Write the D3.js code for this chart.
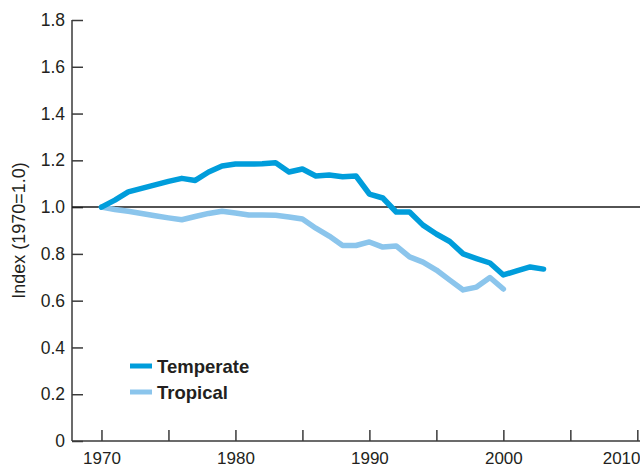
<!DOCTYPE html>
<html>
<head>
<meta charset="utf-8">
<script src="https://cdn.jsdelivr.net/npm/d3@7"></script>
<style>
  body { margin: 0; background: #fff; }
  svg { display: block; font-family: "Liberation Sans", Arial, sans-serif; }
</style>
</head>
<body>
<svg id="chart"></svg>
<script>
const years = d3.range(1970, 2004)

const temperate = [
  1.0, 1.03, 1.065, 1.08, 1.095, 1.11, 1.123, 1.114, 1.15, 1.176,
  1.184, 1.184, 1.185, 1.19, 1.15, 1.163, 1.133, 1.137, 1.13, 1.133,
  1.056, 1.039, 0.979, 0.979, 0.923, 0.885, 0.853, 0.8, 0.78, 0.761,
  0.71, 0.727, 0.744, 0.735,
]

const tropical = [
  1.0, 0.99, 0.982, 0.973, 0.963, 0.954, 0.946, 0.96, 0.973, 0.982,
  0.975, 0.966, 0.966, 0.965, 0.958, 0.949, 0.91, 0.876, 0.836, 0.836,
  0.851, 0.829, 0.834, 0.787, 0.765, 0.731, 0.688, 0.646, 0.658, 0.699,
  0.65,
]

const xTicks = [1970, 1975, 1980, 1985, 1990, 1995, 2000, 2005, 2010]
const xTickLabels = ["1970", "", "1980", "", "1990", "", "2000", "", "2010"]
const yTicks = [0, 0.2, 0.4, 0.6, 0.8, 1.0, 1.2, 1.4, 1.6, 1.8]
const yTickLabels = ["0", "0.2", "0.4", "0.6", "0.8", "1.0", "1.2", "1.4", "1.6", "1.8"]

const seriesNames = ["Temperate", "Tropical"]
const seriesColors = ["#009ddb", "#8bc5ec"]

const width = 640
const height = 467
const axisColor = "#3a3a3a"
const textColor = "#231f20"

const svg = d3.select("#chart").attr("width", width).attr("height", height)

const x = d3.scaleLinear().domain([1967.8, 2010.2]).range([72, 640])
const y = d3.scaleLinear().domain([0, 1.8]).range([441, 20])

// y axis, ticks pointing inward
const yAxis = svg
  .append("g")
  .attr("transform", `translate(${x.range()[0]},0)`)
  .call(
    d3
      .axisRight(y)
      .tickValues(yTicks)
      .tickSize(11)
      .tickFormat((d, i) => yTickLabels[i])
  )
yAxis.select(".domain").attr("d", `M0,${y(1.8)}V${y(0)}`).attr("stroke", axisColor).attr("stroke-width", 1.5)
yAxis.selectAll(".tick line").attr("stroke", axisColor).attr("stroke-width", 1.5)
yAxis
  .selectAll(".tick text")
  .attr("x", -7)
  .attr("text-anchor", "end")
  .attr("fill", textColor)
  .style("font-size", "17.5px")

// x axis, ticks pointing up
const xAxis = svg
  .append("g")
  .attr("transform", `translate(0,${y(0)})`)
  .call(
    d3
      .axisTop(x)
      .tickValues(xTicks)
      .tickSize(11)
      .tickFormat((d, i) => xTickLabels[i])
  )
xAxis.select(".domain").attr("d", `M${x.range()[0]},0H${width}`).attr("stroke", axisColor).attr("stroke-width", 1.5)
xAxis.selectAll(".tick line").attr("stroke", axisColor).attr("stroke-width", 1.5)
xAxis
  .selectAll(".tick text")
  .attr("y", 23)
  .attr("dy", 0)
  .attr("fill", textColor)
  .style("font-size", "17px")
// last label sits against the right edge
xAxis
  .selectAll(".tick text")
  .filter((d) => d === 2010)
  .attr("text-anchor", "end")
  .attr("x", width - x(2010))

// y axis title
svg
  .append("text")
  .attr("transform", `translate(25,${y(0.9)}) rotate(-90)`)
  .attr("text-anchor", "middle")
  .attr("fill", textColor)
  .style("font-size", "18px")
  .text("Index (1970=1.0)")

// reference line at 1.0
svg
  .append("line")
  .attr("x1", x.range()[0])
  .attr("x2", width)
  .attr("y1", y(1))
  .attr("y2", y(1))
  .attr("stroke", "#1a1a1a")
  .attr("stroke-width", 1.5)

const line = d3
  .line()
  .x((d) => x(d.year))
  .y((d) => y(d.value))

const series = [temperate, tropical].map((values, i) => ({
  name: seriesNames[i],
  color: seriesColors[i],
  points: values.map((v, j) => ({ year: years[j], value: v })),
}))

// tropical under temperate
series
  .slice()
  .reverse()
  .forEach((s) => {
    svg
      .append("path")
      .attr("d", line(s.points))
      .attr("fill", "none")
      .attr("stroke", s.color)
      .attr("stroke-width", 5.5)
      .attr("stroke-linejoin", "round")
      .attr("stroke-linecap", "round")
  })

// legend
const legend = svg.append("g").attr("transform", "translate(130,366)")
series.forEach((s, i) => {
  const row = legend.append("g").attr("transform", `translate(0,${i * 26})`)
  row
    .append("line")
    .attr("x1", 0)
    .attr("x2", 22)
    .attr("stroke", s.color)
    .attr("stroke-width", 5)
  row
    .append("text")
    .attr("x", 27)
    .attr("y", 7)
    .attr("fill", textColor)
    .style("font-size", "18.5px")
    .style("font-weight", "bold")
    .text(s.name)
})
</script>
</body>
</html>
